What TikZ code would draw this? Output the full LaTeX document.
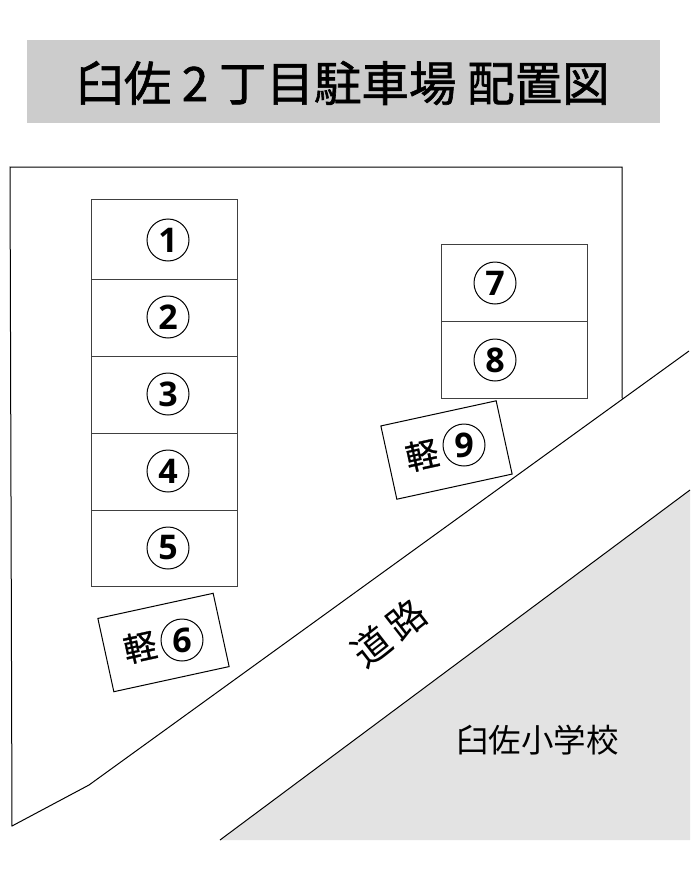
\documentclass[tikz,border=0pt]{standalone}
\usepackage{fontspec}
\setmainfont{Noto Sans CJK JP}
\newfontfamily\titlefont[FakeBold=1.3]{Noto Sans CJK JP}
\newfontfamily\numfont{Open Sans}
\newfontfamily\markfont[FakeBold=0.8]{Noto Sans CJK JP}
\definecolor{titlegray}{HTML}{CCCCCC}
\definecolor{schoolgray}{HTML}{E3E3E3}
\definecolor{slotline}{HTML}{404040}
\tikzset{
  slotbox/.style={draw=slotline,line width=1.3pt,minimum width=146pt,anchor=north west,inner sep=0pt},
  lightbox/.style={draw=black,line width=1pt,minimum width=118pt,minimum height=75pt,rotate=12.3,inner sep=0pt},
  numcircle/.style={draw=black,circle,line width=1pt,minimum size=42pt,inner sep=0pt,font=\fontsize{34}{34}\selectfont\numfont\bfseries},
  lightmark/.style={rotate=12.3,inner sep=0pt,font=\fontsize{33}{33}\selectfont\markfont},
  siteline/.style={draw=black,line width=1pt}
}
\begin{document}
\begin{tikzpicture}[x=1pt,y=-1pt]
\useasboundingbox (0,0) rectangle (700,875);
% title
\fill [titlegray] (27,40) rectangle (660,123);
\node (title) at (343,83) [inner sep=0pt,font=\fontsize{47.5}{47.5}\selectfont\titlefont] {臼佐 2 丁目駐車場 配置図};
% school ground
\coordinate (schoolA) at (220,840);
\coordinate (schoolB) at (690,490);
\fill [schoolgray] (schoolA) -- (schoolB) -- (690,840) -- cycle;
\draw [siteline] (schoolA) -- (schoolB);
\node (school) at (537.5,740) [font=\fontsize{32.5}{32.5}\selectfont] {臼佐小学校};
% site boundary
\coordinate (siteA) at (622,398);
\coordinate (siteB) at (622,167);
\coordinate (siteC) at (10,167);
\coordinate (siteD) at (12,826);
\coordinate (siteE) at (89,785);
\coordinate (siteF) at (689,351);
\draw [siteline,line join=miter] (siteA) -- (siteB) -- (siteC) -- (siteD) -- (siteE) -- (siteF);
% parking slots
\node (slotA) at (91,199) [slotbox,minimum height=80pt] {};
\node (slotB) at (91,279) [slotbox,minimum height=77pt] {};
\node (slotC) at (91,356) [slotbox,minimum height=77pt] {};
\node (slotD) at (91,433) [slotbox,minimum height=77pt] {};
\node (slotE) at (91,510) [slotbox,minimum height=76pt] {};
\node (slotG) at (441,244) [slotbox,minimum height=77pt] {};
\node (slotH) at (441,321) [slotbox,minimum height=77pt] {};
\node (numA) at (168,240) [numcircle] {1};
\node (numB) at (168,317) [numcircle] {2};
\node (numC) at (168,394) [numcircle] {3};
\node (numD) at (168,471) [numcircle] {4};
\node (numE) at (168,548) [numcircle] {5};
\node (numG) at (495,283) [numcircle] {7};
\node (numH) at (495,360) [numcircle] {8};
% light cars
\node (slotF) at (163.5,642.5) [lightbox] {};
\node (slotI) at (446.5,450) [lightbox] {};
\node (markF) at (140,647) [lightmark] {軽};
\node (markI) at (422,455) [lightmark] {軽};
\node (numF) at (182,640) [numcircle] {6};
\node (numI) at (464,445) [numcircle] {9};
% road
\node (road) at (389,633) [rotate=38,font=\fontsize{38}{38}\selectfont] {道\hspace{7pt}路};
\end{tikzpicture}
\end{document}
